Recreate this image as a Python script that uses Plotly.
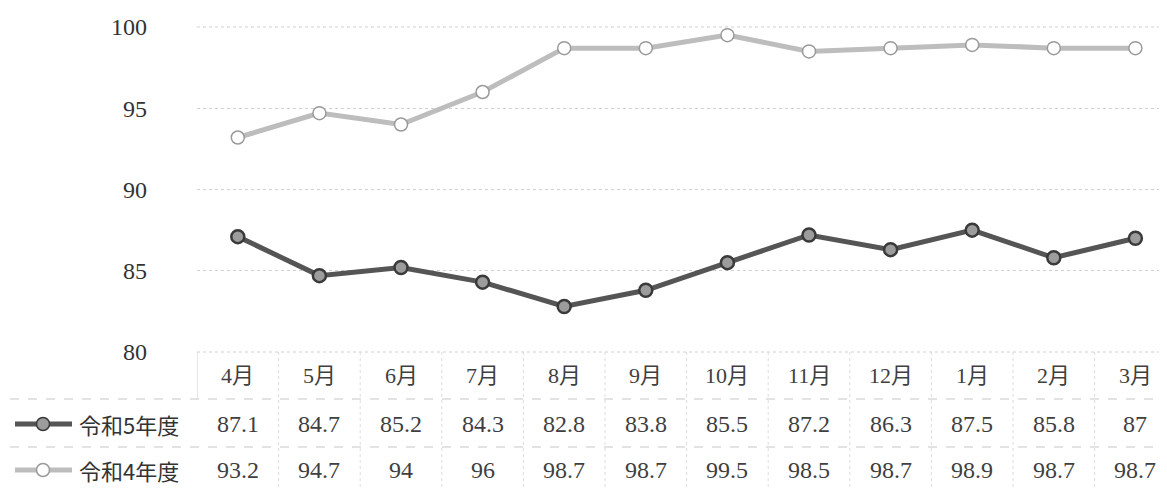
import plotly.graph_objects as go

months = ["4月", "5月", "6月", "7月", "8月", "9月", "10月", "11月", "12月", "1月", "2月", "3月"]
r5_name = "令和5年度"
r4_name = "令和4年度"
r5_values = [87.1, 84.7, 85.2, 84.3, 82.8, 83.8, 85.5, 87.2, 86.3, 87.5, 85.8, 87]
r4_values = [93.2, 94.7, 94, 96, 98.7, 98.7, 99.5, 98.5, 98.7, 98.9, 98.7, 98.7]
y_ticks = [80, 85, 90, 95, 100]

# page body margin offset (browser default 8px)
OX, OY = 8, 8
WIN_W, WIN_H = 1167, 488
W, H = WIN_W - OX, WIN_H - OY
# window-pixel geometry of the plot area
PL, PT, PB = 197, 27, 352
L, R, T, B = PL - OX, 0, PT - OY, WIN_H - PB
PW = W - L - R
PH = PB - PT
COL = 81.6

def py_paper(py):  # window pixel y -> paper
    return (PB - py) / PH

def px_paper(px):  # window pixel x -> paper
    return (px - PL) / PW

serif = "Liberation Serif, Noto Sans CJK JP, serif"
sans = "Noto Sans CJK JP, sans-serif"

s5 = dict(line="#555555", fill="#9c9c9c", edge="#3a3a3a")
s4 = dict(line="#bdbdbd", fill="#ffffff", edge="#9a9a9a")

x_idx = list(range(len(months)))

fig = go.Figure()
fig.add_trace(go.Scatter(
    x=x_idx, y=r4_values, mode="lines+markers", name=r4_name,
    line=dict(color=s4["line"], width=5),
    marker=dict(size=13, color=s4["fill"], line=dict(color=s4["edge"], width=1.5)),
    showlegend=False, cliponaxis=False))
fig.add_trace(go.Scatter(
    x=x_idx, y=r5_values, mode="lines+markers", name=r5_name,
    line=dict(color=s5["line"], width=5),
    marker=dict(size=13, color=s5["fill"], line=dict(color=s5["edge"], width=2.5)),
    showlegend=False, cliponaxis=False))

ann = []
shapes = []
y_head = py_paper(375)
y_r1 = py_paper(424)
y_r2 = py_paper(470)
txt = "#3f3f3f"
for i, m in enumerate(months):
    ann.append(dict(x=i, y=y_head, xref="x", yref="paper", text=m, showarrow=False,
                    xanchor="center", yanchor="middle",
                    font=dict(family=serif, size=22, color=txt)))
    ann.append(dict(x=i, y=y_r1, xref="x", yref="paper", text=str(r5_values[i]), showarrow=False,
                    xanchor="center", yanchor="middle",
                    font=dict(family=serif, size=24, color=txt)))
    ann.append(dict(x=i, y=y_r2, xref="x", yref="paper", text=str(r4_values[i]), showarrow=False,
                    xanchor="center", yanchor="middle",
                    font=dict(family=serif, size=24, color=txt)))

# legend cells
for name, st, yc in [(r5_name, s5, y_r1), (r4_name, s4, y_r2)]:
    shapes.append(dict(type="line", xref="paper", yref="paper",
                       x0=px_paper(15), x1=px_paper(72), y0=yc, y1=yc,
                       line=dict(color=st["line"], width=5)))
    shapes.append(dict(type="circle", xref="paper", yref="paper",
                       xsizemode="pixel", ysizemode="pixel",
                       xanchor=px_paper(43), yanchor=yc,
                       x0=-6.5, x1=6.5, y0=-6.5, y1=6.5,
                       fillcolor=st["fill"], line=dict(color=st["edge"], width=1.5)))
    ann.append(dict(x=px_paper(77), y=yc, xref="paper", yref="paper", text=name,
                    showarrow=False, xanchor="left", yanchor="middle",
                    font=dict(family=sans, size=22, color="#333333")))

# edge gridlines (80 and 100) that plotly omits at the range limits
for yp in [0, 1]:
    shapes.append(dict(type="line", xref="paper", yref="paper", layer="below",
                       x0=0, x1=1, y0=yp, y1=yp,
                       line=dict(color="#cfcfcf", width=1, dash="dot")))

# table grid
grid_col = "#c8c8c8"
for py in [399, 447]:
    yp = py_paper(py)
    shapes.append(dict(type="line", xref="paper", yref="paper",
                       x0=px_paper(10), x1=1, y0=yp, y1=yp,
                       line=dict(color=grid_col, width=1.2, dash="dash")))
for i in range(len(months) - 1):
    shapes.append(dict(type="line", xref="x", yref="paper",
                       x0=i + 0.5, x1=i + 0.5, y0=0, y1=py_paper(WIN_H),
                       line=dict(color="#dcdcdc", width=1, dash="dot")))
shapes.append(dict(type="line", xref="x", yref="paper",
                   x0=-0.5, x1=-0.5, y0=0, y1=py_paper(399),
                   line=dict(color="#d0d0d0", width=1)))

fig.update_layout(
    width=W, height=H,
    margin=dict(l=L, r=R, t=T, b=B),
    paper_bgcolor="white", plot_bgcolor="white",
    annotations=ann, shapes=shapes,
    xaxis=dict(range=[-0.5, -0.5 + PW / COL], showticklabels=False, showgrid=False,
               zeroline=False, showline=False, fixedrange=True),
    yaxis=dict(range=[80, 100], tickvals=y_ticks, showgrid=True, gridcolor="#cfcfcf",
               griddash="dot", gridwidth=1, zeroline=False, showline=False,
               ticklabelstandoff=49,
               tickfont=dict(family=serif, size=24, color="#333333")),
)

fig.write_html("out.html")
